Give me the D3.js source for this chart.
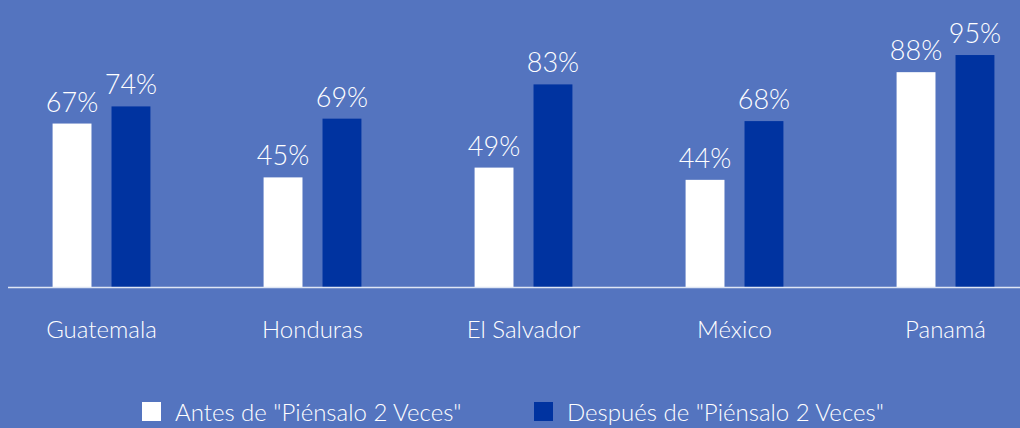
<!DOCTYPE html>
<html>
<head>
<meta charset="utf-8">
<script src="https://cdn.jsdelivr.net/npm/d3@7"></script>
<style>
  body { margin: 0; background: #5474bf; }
  svg { display: block; font-family: Lato, "Open Sans", sans-serif; font-weight: 300; }
</style>
</head>
<body>
<div id="chart"></div>
<script>
// chart data
var countries = ["Guatemala", "Honduras", "El Salvador", "México", "Panamá"];
var series = ['Antes de "Piénsalo 2 Veces"', 'Después de "Piénsalo 2 Veces"'];
var antes = [67, 45, 49, 44, 88];
var despues = [74, 69, 83, 68, 95];
var colors = ["#ffffff", "#0033a0"];

var svgWidth = 1020;
var svgHeight = 428;

var svg = d3.select("#chart")
  .append("svg")
  .attr("width", svgWidth)
  .attr("height", svgHeight);

svg.append("rect")
  .attr("width", svgWidth)
  .attr("height", svgHeight)
  .attr("fill", "#5474bf");

var baseY = 287.5;

// scales
var x0 = d3.scaleBand()
  .domain(countries)
  .range([-4, 1051]);

var x1 = d3.scaleBand()
  .domain(series)
  .range([0, x0.bandwidth()])
  .paddingInner(0.34)
  .paddingOuter(0.96);

var y = d3.scaleLinear()
  .domain([0, 100])
  .range([baseY, baseY - 244.7]);

var rows = countries.map(function(c, i) {
  return { country: c, values: [antes[i], despues[i]] };
});

var groups = svg.selectAll(".group")
  .data(rows)
  .enter()
  .append("g")
  .attr("transform", d => `translate(${x0(d.country)}, 0)`);

var cells = groups.selectAll(".cell")
  .data(d => d.values.map((v, j) => ({ key: series[j], value: v, idx: j })))
  .enter();

cells.append("rect")
  .attr("x", d => x1(d.key))
  .attr("y", d => y(d.value))
  .attr("width", x1.bandwidth())
  .attr("height", d => baseY - y(d.value))
  .attr("fill", d => colors[d.idx]);

cells.append("text")
  .attr("x", d => x1(d.key) + x1.bandwidth() / 2)
  .attr("y", d => y(d.value) - 12)
  .attr("text-anchor", "middle")
  .attr("fill", "#ffffff")
  .style("font-size", "27px")
  .text(d => d.value + "%");

// baseline axis
var xAxis = d3.axisBottom(x0).tickSize(0).tickPadding(33);
var axisG = svg.append("g")
  .attr("transform", `translate(0, ${baseY})`)
  .call(xAxis);
axisG.select(".domain").remove();
axisG.selectAll("text")
  .attr("fill", "#ffffff")
  .style("font-size", "24px")
  .style("font-family", "Lato, 'Open Sans', sans-serif")
  .style("font-weight", 300);

svg.append("line")
  .attr("x1", 8)
  .attr("x2", svgWidth)
  .attr("y1", baseY)
  .attr("y2", baseY)
  .attr("stroke", "#dfe6f4")
  .attr("stroke-width", 1.5);

// legend
var legend = svg.selectAll(".legend")
  .data(series)
  .enter()
  .append("g")
  .attr("transform", (d, i) => `translate(${142 + i * 392}, 402)`);

legend.append("rect")
  .attr("width", 19)
  .attr("height", 19)
  .attr("fill", (d, i) => colors[i]);

legend.append("text")
  .attr("x", 33)
  .attr("y", 19)
  .attr("fill", "#ffffff")
  .style("font-size", "24px")
  .text(d => d);
</script>
</body>
</html>
